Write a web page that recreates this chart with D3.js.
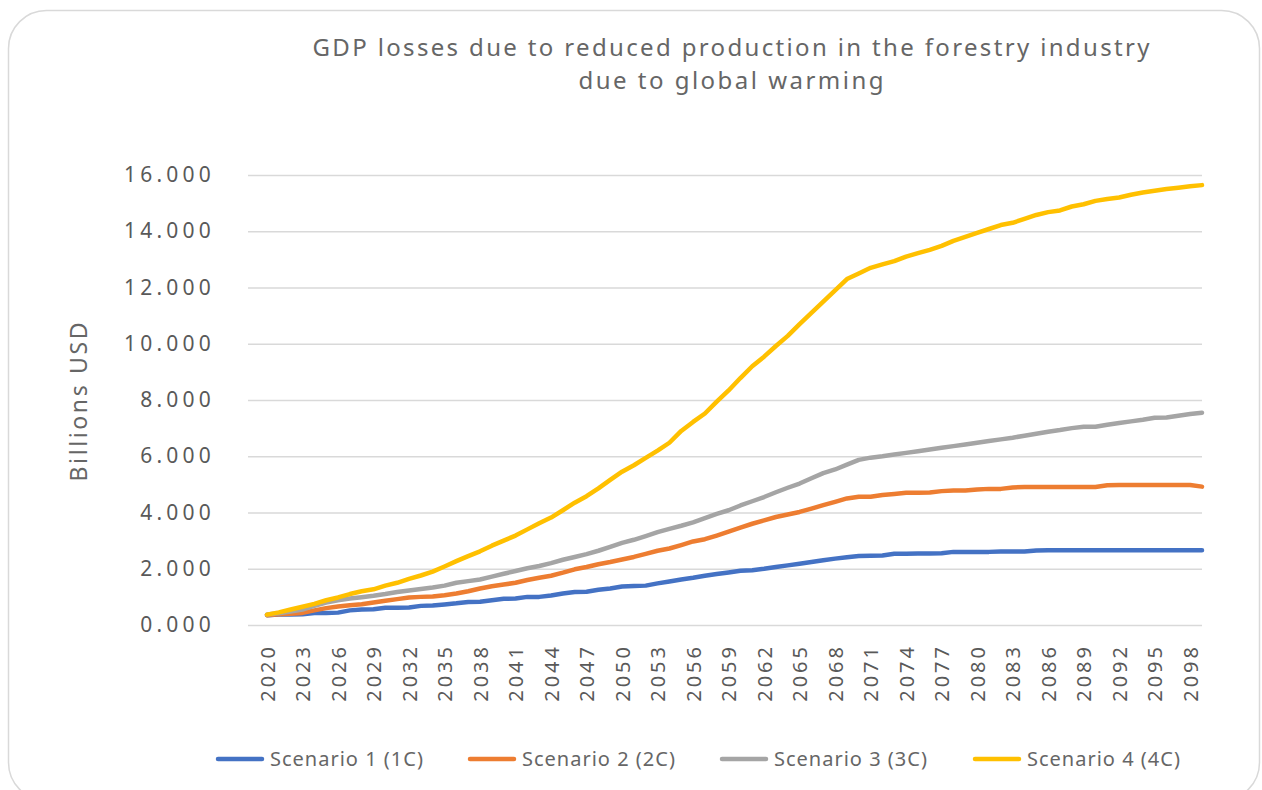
<!DOCTYPE html>
<html>
<head>
<meta charset="utf-8">
<script src="https://cdn.jsdelivr.net/npm/d3@7"></script>
<style>
  body { margin: 0; background: #fff; }
  text { font-family: 'Noto Sans', 'Open Sans', sans-serif; fill: #595959; }
</style>
</head>
<body>
<div id="chart"></div>
<script>
const title = ['GDP losses due to reduced production in the forestry industry', 'due to global warming'];
const titleWidths = [837, 305];
const yTitle = 'Billions USD';
const years = d3.range(2020, 2100);
const yTicks = [0, 2, 4, 6, 8, 10, 12, 14, 16];

const scenario1 = [0.35, 0.37, 0.37, 0.38, 0.43, 0.43, 0.44, 0.52, 0.55, 0.56,
  0.61, 0.61, 0.62, 0.68, 0.69, 0.73, 0.77, 0.82, 0.83, 0.88,
  0.93, 0.94, 1.0, 1.0, 1.05, 1.12, 1.17, 1.18, 1.25, 1.3,
  1.37, 1.39, 1.4, 1.48, 1.55, 1.62, 1.68, 1.75, 1.81, 1.87,
  1.93, 1.95, 2.0, 2.06, 2.12, 2.18, 2.24, 2.3, 2.36, 2.41,
  2.45, 2.46, 2.47, 2.53, 2.53, 2.54, 2.54, 2.55, 2.6, 2.6,
  2.6, 2.6, 2.61, 2.61, 2.61, 2.65, 2.66, 2.66, 2.66, 2.66,
  2.66, 2.66, 2.66, 2.66, 2.66, 2.66, 2.66, 2.66, 2.66, 2.66];

const scenario2 = [0.35, 0.38, 0.4, 0.43, 0.52, 0.6, 0.66, 0.7, 0.74, 0.8,
  0.86, 0.92, 0.98, 1.0, 1.01, 1.06, 1.12, 1.2, 1.3, 1.38,
  1.44, 1.5, 1.6, 1.68, 1.75, 1.86, 1.98, 2.06, 2.16, 2.24,
  2.33, 2.42, 2.53, 2.64, 2.72, 2.84, 2.97, 3.05, 3.18, 3.32,
  3.46, 3.6, 3.72, 3.84, 3.93, 4.02, 4.14, 4.26, 4.38, 4.5,
  4.56, 4.56, 4.62, 4.66, 4.7, 4.7, 4.71, 4.76, 4.78, 4.78,
  4.82, 4.84, 4.84, 4.89, 4.91, 4.91, 4.91, 4.91, 4.91, 4.91,
  4.91, 4.97, 4.98, 4.98, 4.98, 4.98, 4.98, 4.98, 4.98, 4.92];

const scenario3 = [0.37, 0.42, 0.48, 0.55, 0.68, 0.8, 0.88, 0.94, 0.99, 1.04,
  1.1, 1.17, 1.23, 1.28, 1.33, 1.4, 1.5, 1.56, 1.62, 1.72,
  1.82, 1.92, 2.02, 2.1, 2.2, 2.32, 2.42, 2.52, 2.64, 2.78,
  2.92, 3.03, 3.16, 3.3, 3.42, 3.53, 3.65, 3.8, 3.95, 4.08,
  4.25, 4.4, 4.55, 4.72, 4.88, 5.03, 5.22, 5.4, 5.53, 5.7,
  5.87, 5.95, 6.0, 6.06, 6.12, 6.18, 6.24, 6.3, 6.36, 6.42,
  6.48, 6.54, 6.6, 6.66, 6.73, 6.8, 6.87, 6.93, 7.0, 7.05,
  7.05, 7.12, 7.18, 7.24, 7.3, 7.37, 7.38, 7.44, 7.5, 7.55];

const scenario4 = [0.37, 0.45, 0.55, 0.65, 0.75, 0.88, 0.98, 1.1, 1.2, 1.27,
  1.4, 1.5, 1.64, 1.76, 1.9, 2.08, 2.27, 2.45, 2.62, 2.82,
  3.0, 3.18, 3.4, 3.62, 3.82, 4.08, 4.35, 4.58, 4.86, 5.16,
  5.45, 5.68, 5.94, 6.2, 6.48, 6.9, 7.22, 7.52, 7.94, 8.34,
  8.78, 9.2, 9.54, 9.92, 10.28, 10.7, 11.1, 11.5, 11.9, 12.3,
  12.5, 12.7, 12.82, 12.94, 13.1, 13.22, 13.34, 13.48, 13.66, 13.8,
  13.94, 14.08, 14.22, 14.3, 14.44, 14.58, 14.68, 14.74, 14.88, 14.96,
  15.08, 15.15, 15.2, 15.3, 15.38, 15.44, 15.5, 15.55, 15.6, 15.64];

const seriesNames = ['Scenario 1 (1C)', 'Scenario 2 (2C)', 'Scenario 3 (3C)', 'Scenario 4 (4C)'];
const seriesColors = ['#4472C4', '#ED7D31', '#A5A5A5', '#FFC000'];
const seriesValues = [scenario1, scenario2, scenario3, scenario4];

const W = 1262;
const H = 790;
const plot = { left: 248, right: 1202, top: 175, bottom: 625 };

const svg = d3.select('#chart').append('svg')
  .attr('width', W)
  .attr('height', H);

// card background
svg.append('rect')
  .attr('x', 8.5).attr('y', 10.5)
  .attr('width', 1251).attr('height', 790)
  .attr('rx', 38)
  .attr('fill', '#fff')
  .attr('stroke', '#d9d9d9')
  .attr('stroke-width', 1.5);

// title (two lines, stretched to the reference widths)
svg.selectAll('.title')
  .data(title)
  .enter().append('text')
  .attr('class', 'title')
  .attr('x', 731)
  .attr('y', (d, i) => 56 + i * 33)
  .attr('text-anchor', 'middle')
  .attr('textLength', (d, i) => titleWidths[i])
  .attr('lengthAdjust', 'spacing')
  .style('font-size', '24px')
  .style('fill', '#666')
  .text(d => d);

const x = d3.scalePoint()
  .domain(years)
  .range([267, plot.right]);

const y = d3.scaleLinear()
  .domain([0, 16])
  .range([plot.bottom, plot.top]);

// gridlines + y labels
const yAxis = d3.axisLeft(y)
  .tickValues(yTicks)
  .tickSize(-(plot.right - plot.left))
  .tickPadding(33)
  .tickFormat(d3.format('.3f'));

const gy = svg.append('g')
  .attr('transform', `translate(${plot.left},0)`)
  .call(yAxis);
gy.select('.domain').remove();
gy.selectAll('line').attr('stroke', '#d9d9d9').attr('stroke-width', 1.5);
gy.selectAll('text')
  .style('font-size', '21px')
  .style('letter-spacing', '4.2px')
  .attr('fill', '#666')
  .attr('font-family', null);

// y title
svg.append('text')
  .attr('transform', 'translate(87,402) rotate(-90)')
  .attr('text-anchor', 'middle')
  .attr('textLength', 159)
  .attr('lengthAdjust', 'spacing')
  .style('font-size', '23px')
  .style('fill', '#666')
  .text(yTitle);

// x labels
const xAxis = d3.axisBottom(x)
  .tickValues(years.filter((d, i) => i % 3 === 0))
  .tickSize(0)
  .tickPadding(0);

const gx = svg.append('g')
  .attr('transform', `translate(0,${plot.bottom})`)
  .call(xAxis);
gx.select('.domain').remove();
gx.selectAll('text')
  .attr('transform', 'rotate(-90)')
  .attr('text-anchor', 'end')
  .attr('x', -19)
  .attr('y', 0)
  .attr('dy', '0.35em')
  .style('font-size', '20px')
  .style('letter-spacing', '3px')
  .attr('fill', '#666')
  .attr('font-family', null);

// lines
const line = d3.line()
  .x((d, i) => x(years[i]))
  .y(d => y(d));

svg.selectAll('.series')
  .data(seriesValues)
  .enter().append('path')
  .attr('class', 'series')
  .attr('d', d => line(d))
  .attr('fill', 'none')
  .attr('stroke', (d, i) => seriesColors[i])
  .attr('stroke-width', 4.5)
  .attr('stroke-linejoin', 'round')
  .attr('stroke-linecap', 'round');

// legend
const legendX = [218, 470, 722, 975];
const legend = svg.selectAll('.legend')
  .data(seriesNames)
  .enter().append('g')
  .attr('class', 'legend')
  .attr('transform', (d, i) => `translate(${legendX[i]},759)`);

legend.append('line')
  .attr('x1', 0).attr('x2', 44)
  .attr('stroke', (d, i) => seriesColors[i])
  .attr('stroke-width', 4.5)
  .attr('stroke-linecap', 'round');

legend.append('text')
  .attr('x', 52)
  .attr('dy', '0.35em')
  .style('font-size', '20px')
  .style('letter-spacing', '1px')
  .style('fill', '#666')
  .text(d => d);
</script>
</body>
</html>
